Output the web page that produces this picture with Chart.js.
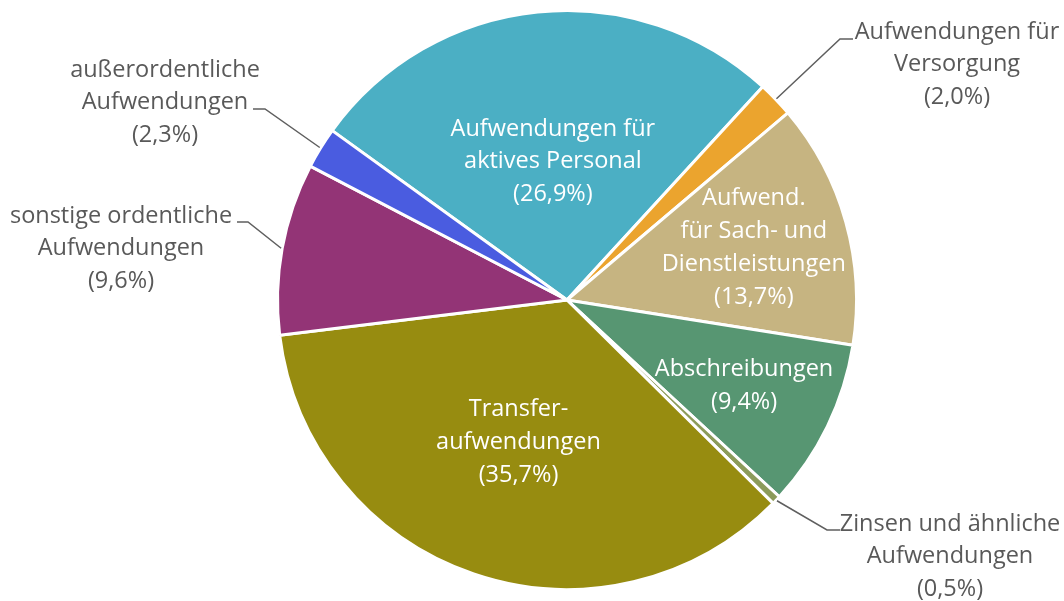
<!DOCTYPE html>
<html>
<head>
<meta charset="utf-8">
<script src="https://cdn.jsdelivr.net/npm/chart.js@4.4.0/dist/chart.umd.min.js"></script>
<style>
  html, body { margin: 0; padding: 0; background: #fff; }
  #wrap { width: 1064px; height: 601px; }
</style>
</head>
<body>
<div id="wrap"><canvas id="pie" width="1064" height="601"></canvas></div>
<script>
// Aufwendungen nach Arten, Anteile in %
const categories = [
  'Aufwendungen für aktives Personal',
  'Aufwendungen für Versorgung',
  'Aufwend. für Sach- und Dienstleistungen',
  'Abschreibungen',
  'Zinsen und ähnliche Aufwendungen',
  'Transferaufwendungen',
  'sonstige ordentliche Aufwendungen',
  'außerordentliche Aufwendungen',
];
const shares = [26.9, 2.0, 13.7, 9.4, 0.5, 35.7, 9.6, 2.3];
const labelLines = [
  ['Aufwendungen für', 'aktives Personal'],
  ['Aufwendungen für', 'Versorgung'],
  ['Aufwend.', 'für Sach- und', 'Dienstleistungen'],
  ['Abschreibungen'],
  ['Zinsen und ähnliche', 'Aufwendungen'],
  ['Transfer-', 'aufwendungen'],
  ['sonstige ordentliche', 'Aufwendungen'],
  ['außerordentliche', 'Aufwendungen'],
];
const colors = ['#4BAFC4', '#EBA42E', '#C6B481', '#579672', '#8C9B5A', '#978C10', '#933476', '#4A5CE0'];

// where each label goes: inside = fraction of radius along the slice middle,
// outside = text centre plus the leader elbow / end
const placement = [
  { inside: 0.48 },
  { text: [957, 32], elbow: [840, 39], end: [853, 39] },
  { inside: 0.67 },
  { inside: 0.68 },
  { text: [950, 524], elbow: [827, 530], end: [840, 530] },
  { inside: 0.52 },
  { text: [121, 216], elbow: [248, 222], end: [237, 222] },
  { text: [165, 70], elbow: [265, 109], end: [253, 109] },
];

const pct = v => `(${v.toFixed(1).replace('.', ',')}%)`;
const LINE_H = 32.8;
const FONT = '23.5px "Open Sans", sans-serif';

const labelPlugin = {
  id: 'sliceLabels',
  afterDatasetsDraw(chart) {
    const ctx = chart.ctx;
    const arcs = chart.getDatasetMeta(0).data;
    ctx.save();
    ctx.font = FONT;
    ctx.textAlign = 'center';
    ctx.textBaseline = 'middle';
    arcs.forEach((arc, i) => {
      const { x, y, startAngle, endAngle, outerRadius } = arc.getProps(['x', 'y', 'startAngle', 'endAngle', 'outerRadius'], true);
      const mid = (startAngle + endAngle) / 2;
      const lines = [...labelLines[i], pct(shares[i])];
      const p = placement[i];
      if (p.inside) {
        const cx = x + Math.cos(mid) * outerRadius * p.inside;
        const cy = y + Math.sin(mid) * outerRadius * p.inside;
        ctx.fillStyle = '#ffffff';
        const top = cy - (lines.length - 1) * LINE_H / 2;
        lines.forEach((t, k) => ctx.fillText(t, cx, top + k * LINE_H));
      } else {
        const sx = x + Math.cos(mid) * (outerRadius + 1);
        const sy = y + Math.sin(mid) * (outerRadius + 1);
        ctx.strokeStyle = '#5f5f5f';
        ctx.lineWidth = 1.5;
        ctx.beginPath();
        ctx.moveTo(sx, sy);
        ctx.lineTo(p.elbow[0], p.elbow[1]);
        ctx.lineTo(p.end[0], p.end[1]);
        ctx.stroke();
        ctx.fillStyle = '#595959';
        lines.forEach((t, k) => ctx.fillText(t, p.text[0], p.text[1] + k * LINE_H));
      }
    });
    ctx.restore();
  }
};

new Chart(document.getElementById('pie'), {
  type: 'pie',
  data: {
    labels: categories,
    datasets: [{
      data: shares,
      backgroundColor: colors,
      borderColor: '#ffffff',
      borderWidth: 3,
      hoverOffset: 0,
    }],
  },
  options: {
    responsive: false,
    animation: false,
    rotation: -54.2,
    layout: { padding: { top: 9, bottom: 10, left: 70, right: 0 } },
    plugins: { legend: { display: false }, tooltip: { enabled: false } },
    events: [],
  },
  plugins: [labelPlugin],
});
</script>
</body>
</html>
